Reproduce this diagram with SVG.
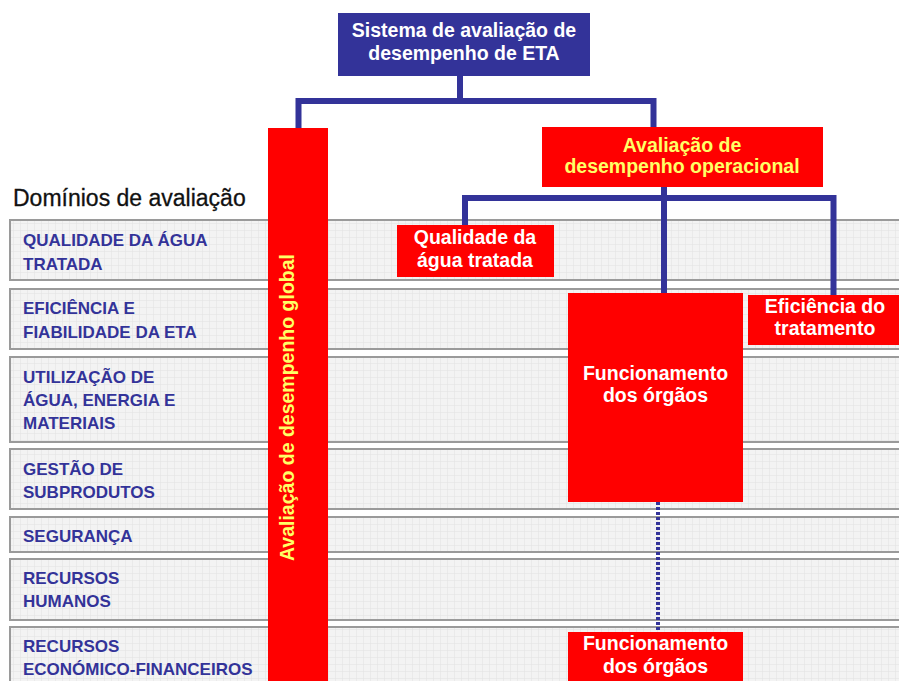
<svg xmlns="http://www.w3.org/2000/svg" width="899" height="681" viewBox="0 0 899 681">
<defs>
<pattern id="grid" width="7" height="7" patternUnits="userSpaceOnUse">
<rect width="7" height="7" fill="#f3f3f3"/>
<path d="M7 0V7M0 7H7" fill="none" stroke="#e2e2e2" stroke-width="1"/>
</pattern>
<style>
.row{fill:url(#grid);stroke:#9a9a9a;stroke-width:2}
.rt{font-family:"Liberation Sans",Arial,sans-serif;font-weight:bold;font-size:17px;fill:#333399}
.blue{fill:#333399}
.red{fill:#ff0000}
.wt{font-family:"Liberation Sans",Arial,sans-serif;font-weight:bold;font-size:19.5px;fill:#ffffff;text-anchor:middle}
.yt{font-family:"Liberation Sans",Arial,sans-serif;font-weight:bold;font-size:19.5px;fill:#ffff66;text-anchor:middle}
.con{fill:none;stroke:#333399;stroke-width:6}
.dot{fill:none;stroke:#333399;stroke-width:4;stroke-dasharray:3 2}
</style>
</defs>
<rect width="899" height="681" fill="#ffffff"/>
<text x="13" y="206" font-family="Liberation Sans,Arial,sans-serif" font-size="23" fill="#111111" stroke="#111111" stroke-width="0.3">Domínios de avaliação</text>
<g id="rows">
<g id="row1"><rect class="row" x="10" y="220" width="900" height="60"/><text class="rt" x="23" y="246">QUALIDADE DA ÁGUA</text><text class="rt" x="23" y="270">TRATADA</text></g>
<g id="row2"><rect class="row" x="10" y="289" width="900" height="60"/><text class="rt" x="23" y="314">EFICIÊNCIA E</text><text class="rt" x="23" y="338">FIABILIDADE DA ETA</text></g>
<g id="row3"><rect class="row" x="10" y="357" width="900" height="85"/><text class="rt" x="23" y="383">UTILIZAÇÃO DE</text><text class="rt" x="23" y="406">ÁGUA, ENERGIA E</text><text class="rt" x="23" y="429">MATERIAIS</text></g>
<g id="row4"><rect class="row" x="10" y="449" width="900" height="60"/><text class="rt" x="23" y="475">GESTÃO DE</text><text class="rt" x="23" y="498">SUBPRODUTOS</text></g>
<g id="row5"><rect class="row" x="10" y="517" width="900" height="35"/><text class="rt" x="23" y="542">SEGURANÇA</text></g>
<g id="row6"><rect class="row" x="10" y="559" width="900" height="61"/><text class="rt" x="23" y="584">RECURSOS</text><text class="rt" x="23" y="607">HUMANOS</text></g>
<g id="row7"><rect class="row" x="10" y="627" width="900" height="70"/><text class="rt" x="23" y="652">RECURSOS</text><text class="rt" x="23" y="675">ECONÓMICO-FINANCEIROS</text></g>
</g>
<g id="connectors">
<path class="con" d="M460 76V101H298.5V128"/>
<path class="con" d="M460 101H653.5V127"/>
<path class="con" d="M664 187V293"/>
<path class="con" d="M465 225V198H833.5V295"/>
<path class="dot" d="M658 502V633"/>
</g>
<g id="top"><rect class="blue" x="338" y="13" width="252" height="63"/><text class="wt" x="464" y="37">Sistema de avaliação de</text><text class="wt" x="464" y="60">desempenho de ETA</text></g>
<g id="global"><rect class="red" x="268" y="128" width="60" height="560"/><text class="yt" transform="translate(294 407.5) rotate(-90)">Avaliação de desempenho global</text></g>
<g id="operacional"><rect class="red" x="542" y="127" width="281" height="60"/><text class="yt" x="682" y="152">Avaliação de</text><text class="yt" x="682" y="173">desempenho operacional</text></g>
<g id="qualidade"><rect class="red" x="397" y="225" width="157" height="52"/><text class="wt" x="475" y="244">Qualidade da</text><text class="wt" x="475" y="267">água tratada</text></g>
<g id="funcionamento"><rect class="red" x="568" y="293" width="175" height="209"/><text class="wt" x="655.5" y="380">Funcionamento</text><text class="wt" x="655.5" y="402">dos órgãos</text></g>
<g id="eficiencia"><rect class="red" x="748" y="295" width="155" height="50"/><text class="wt" x="825" y="313">Eficiência do</text><text class="wt" x="825" y="335">tratamento</text></g>
<g id="funcionamento2"><rect class="red" x="568" y="632" width="175" height="60"/><text class="wt" x="655.5" y="650">Funcionamento</text><text class="wt" x="655.5" y="673">dos órgãos</text></g>
</svg>
